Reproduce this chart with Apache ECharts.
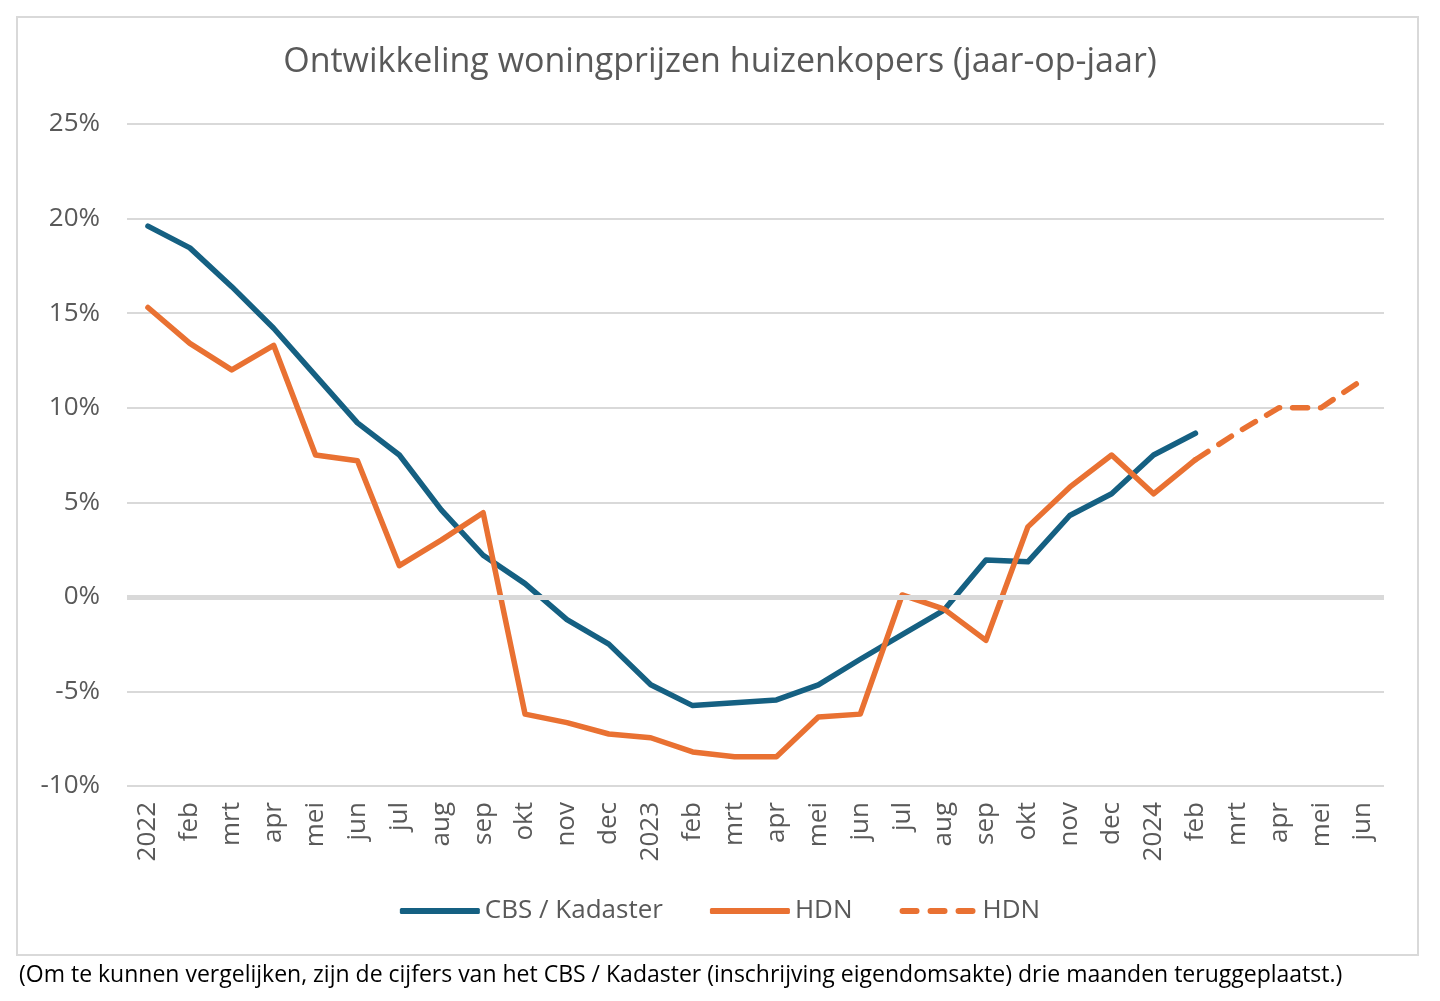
<!DOCTYPE html>
<html>
<head>
<meta charset="utf-8">
<script src="https://cdn.jsdelivr.net/npm/echarts@6/dist/echarts.min.js"></script>
<style>
    html, body { margin: 0; padding: 0; background: #fff; }
    #main { width: 1440px; height: 1001px; }
</style>
</head>
<body>
<div id="main"></div>
<script>
// maanden op de x-as
const categories = [
    "2022", "feb", "mrt", "apr", "mei", "jun", "jul", "aug", "sep", "okt", "nov", "dec",
    "2023", "feb", "mrt", "apr", "mei", "jun", "jul", "aug", "sep", "okt", "nov", "dec",
    "2024", "feb", "mrt", "apr", "mei", "jun"
];
const cbsKadaster = [
    19.6, 18.45, 16.4, 14.2, 11.7, 9.2, 7.5, 4.6, 2.2, 0.7, -1.2, -2.5,
    -4.65, -5.75, -5.6, -5.45, -4.65, -3.3, -2.0, -0.7, 1.95, 1.85, 4.3, 5.45,
    7.5, 8.65, null, null, null, null
];
const hdn = [
    15.3, 13.4, 12.0, 13.3, 7.5, 7.2, 1.65, 3.0, 4.45, -6.2, -6.65, -7.25,
    -7.45, -8.2, -8.45, -8.45, -6.35, -6.2, 0.1, -0.65, -2.3, 3.7, 5.8, 7.5,
    5.45, 7.25, null, null, null, null
];
const hdnVerwacht = [
    null, null, null, null, null, null, null, null, null, null, null, null,
    null, null, null, null, null, null, null, null, null, null, null, null,
    null, 7.25, 8.7, 10.0, 10.0, 11.5
];
const yTicks = [-10, -5, 0, 5, 10, 15, 20, 25];

const font = "Open Sans";
const grey = "#595959";
const blue = "#156082";
const orange = "#E97132";

var myChart = echarts.init(document.getElementById("main"));
var option = {
    backgroundColor: "#fff",
    textStyle: { fontFamily: font },
    animation: false,
    title: [
        {
            text: "Ontwikkeling woningprijzen huizenkopers (jaar-op-jaar)",
            left: "center",
            top: 40,
            textStyle: { color: grey, fontSize: 34, fontWeight: "normal", fontFamily: font },
        },
        {
            text: "(Om te kunnen vergelijken, zijn de cijfers van het CBS / Kadaster (inschrijving eigendomsakte) drie maanden teruggeplaatst.)",
            left: 14,
            top: 959,
            textStyle: { color: "#000", fontSize: 23, fontWeight: "normal", fontFamily: font },
        },
    ],
    graphic: [
        {
            type: "rect",
            shape: { x: 17, y: 17, width: 1401, height: 938 },
            style: { fill: "none", stroke: "#d9d9d9", lineWidth: 2 },
            silent: true,
        },
    ],
    legend: {
        left: "center",
        top: 893,
        itemWidth: 80,
        itemHeight: 6,
        itemGap: 47,
        textStyle: { color: grey, fontSize: 26, fontFamily: font },
        formatter: (name) => (name === "HDN verwacht" ? "HDN" : name),
        data: [
            { name: "CBS / Kadaster", icon: "roundRect" },
            { name: "HDN", icon: "roundRect" },
            { name: "HDN verwacht", icon: "path://M3,0h14a3,3 0 0 1 0,6h-14a3,3 0 0 1 0,-6z M31,0h14a3,3 0 0 1 0,6h-14a3,3 0 0 1 0,-6z M59,0h14a3,3 0 0 1 0,6h-14a3,3 0 0 1 0,-6z" },
        ],
    },
    grid: {
        left: 127,
        right: 56,
        top: 124,
        bottom: 215,
        containLabel: false,
    },
    xAxis: {
        type: "category",
        data: categories,
        boundaryGap: true,
        axisLine: { show: false },
        axisTick: { show: false },
        axisLabel: {
            interval: 0,
            rotate: 90,
            margin: 16,
            color: grey,
            fontSize: 26,
            fontFamily: font,
        },
    },
    yAxis: {
        type: "value",
        min: yTicks[0],
        max: yTicks[yTicks.length - 1],
        interval: 5,
        axisLine: { show: false },
        axisTick: { show: false },
        axisLabel: {
            margin: 27,
            color: grey,
            fontSize: 26,
            fontFamily: font,
            formatter: (v) => v + "%",
        },
        splitLine: {
            show: true,
            lineStyle: { color: "#d9d9d9", width: 2 },
        },
    },
    series: [
        {
            name: "nullijn",
            type: "line",
            data: [],
            z: 1,
            silent: true,
            markLine: {
                silent: true,
                symbol: "none",
                label: { show: false },
                lineStyle: { color: "#d9d9d9", width: 5, type: "solid" },
                data: [{ yAxis: 0 }],
            },
        },
        {
            name: "CBS / Kadaster",
            type: "line",
            data: cbsKadaster,
            symbol: "none",
            z: 3,
            lineStyle: { color: blue, width: 5.5, cap: "round", join: "round" },
            itemStyle: { color: blue },
        },
        {
            name: "HDN",
            type: "line",
            data: hdn,
            symbol: "none",
            z: 4,
            lineStyle: { color: orange, width: 5.5, cap: "round", join: "round" },
            itemStyle: { color: orange },
        },
        {
            name: "HDN verwacht",
            type: "line",
            data: hdnVerwacht,
            symbol: "none",
            z: 4,
            lineStyle: { color: orange, width: 5.5, type: [15, 13], cap: "round", join: "round" },
            itemStyle: { color: orange },
        },
    ],
};
myChart.setOption(option);
</script>
</body>
</html>
